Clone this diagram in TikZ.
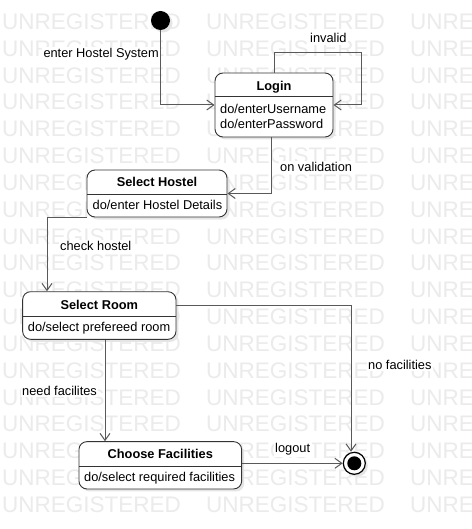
\documentclass[tikz,border=0pt]{standalone}
\usepackage{fontspec}
\setmainfont{Liberation Sans}
\usetikzlibrary{arrows.meta,shadows}
\tikzset{
 wm/.style={font=\fontsize{22.5}{22.5}\selectfont, text=black!8, anchor=base west, inner sep=0pt},
 statebox/.style={draw=black!80, line width=0.9pt, rounded corners=8pt, fill=white,
   drop shadow={shadow xshift=2.5pt, shadow yshift=-2.5pt, fill=black!10, opacity=1}, inner sep=0pt},
 divider/.style={draw=black!80, line width=0.9pt},
 ttl/.style={font=\fontsize{12.8}{15}\selectfont\bfseries, anchor=base, inner sep=0pt},
 body/.style={font=\fontsize{12.8}{15}\selectfont, anchor=base west, inner sep=0pt},
 lbl/.style={font=\fontsize{12.8}{15}\selectfont, anchor=base west, fill=white, inner sep=1.5pt},
 conn/.style={draw=black!65, line width=1pt, -{Straight Barb[length=7pt,width=10pt]}},
}
\begin{document}
\begin{tikzpicture}[x=1pt,y=-1pt]
\useasboundingbox (0,0) rectangle (471,529);
\fill[white] (0,0) rectangle (471,529);
% watermark
\begin{scope}
\clip (0,0) rectangle (471,529);
\foreach \r in {0,...,18}{
  \foreach \c in {0,1,2}{
    \node[wm] (wm\r x\c) at ({2+204*\c},{29.5+26.83*\r}) {UNREGISTERED};
  }
}
\end{scope}

% states
\node[statebox, minimum width=118pt, minimum height=64pt] (login) at (274,105) {};
\draw[divider] (login.west |- 0,96) -- (login.east |- 0,96);
\node[ttl] (loginT) at (274,91) {Login};
\node[body] (loginB1) at (220,114) {do/enterUsername};
\node[body] (loginB2) at (220,129) {do/enterPassword};

\node[statebox, minimum width=140pt, minimum height=47pt] (hostel) at (157,193.5) {};
\draw[divider] (hostel.west |- 0,194.3) -- (hostel.east |- 0,194.3);
\node[ttl] (hostelT) at (157,187) {Select Hostel};
\node[body] (hostelB) at (92.5,209) {do/enter Hostel Details};

\node[statebox, minimum width=153.3pt, minimum height=47.6pt] (room) at (99.3,315.5) {};
\draw[divider] (room.west |- 0,316.7) -- (room.east |- 0,316.7);
\node[ttl] (roomT) at (99.3,309) {Select Room};
\node[body] (roomB) at (27.7,331.7) {do/select prefereed room};

\node[statebox, minimum width=162.7pt, minimum height=47.3pt] (facil) at (160.3,465.3) {};
\draw[divider] (facil.west |- 0,466.7) -- (facil.east |- 0,466.7);
\node[ttl] (facilT) at (160.3,458.3) {Choose Facilities};
\node[body] (facilB) at (84,481.7) {do/select required facilities};

% pseudo states
\node[circle, fill=black, minimum size=19pt, inner sep=0pt,
  drop shadow={shadow xshift=2.5pt, shadow yshift=-2.5pt, fill=black!10, opacity=1}] (init) at (160.5,20.5) {};
\node[circle, draw=black, line width=1.2pt, fill=white, minimum size=22pt, inner sep=0pt,
  drop shadow={shadow xshift=2.5pt, shadow yshift=-2.5pt, fill=black!10, opacity=1}] (final) at (354.3,463.3) {};
\node[circle, fill=black, minimum size=14pt, inner sep=0pt] (finaldot) at (final) {};

% connectors
\draw[conn] (init) |- (login.west);
\draw[conn] (login.north) |- (361,53) |- (login.east);
\draw[conn] (login.south -| 271,0) |- (hostel.east);
\draw[conn] (hostel.south west) -| (room.north -| 47,0);
\draw[conn] (room.south -| 105,0) -- (facil.north -| 105,0);
\draw[conn] (room.east |- 0,305) -| (final.north -| 351,0);
\draw[conn] (facil.east |- final.west) -- (final.west);

% labels
\node[lbl] (l1) at (41.8,57.5) {enter Hostel System};
\node[lbl] (l2) at (308.5,43) {invalid};
\node[lbl] (l3) at (278.5,172) {on validation};
\node[lbl] (l4) at (58.5,250.5) {check hostel};
\node[lbl] (l5) at (20.5,395) {need facilites};
\node[lbl] (l6) at (366.5,369) {no facilities};
\node[lbl] (l7) at (273.5,452.5) {logout};
\end{tikzpicture}
\end{document}
